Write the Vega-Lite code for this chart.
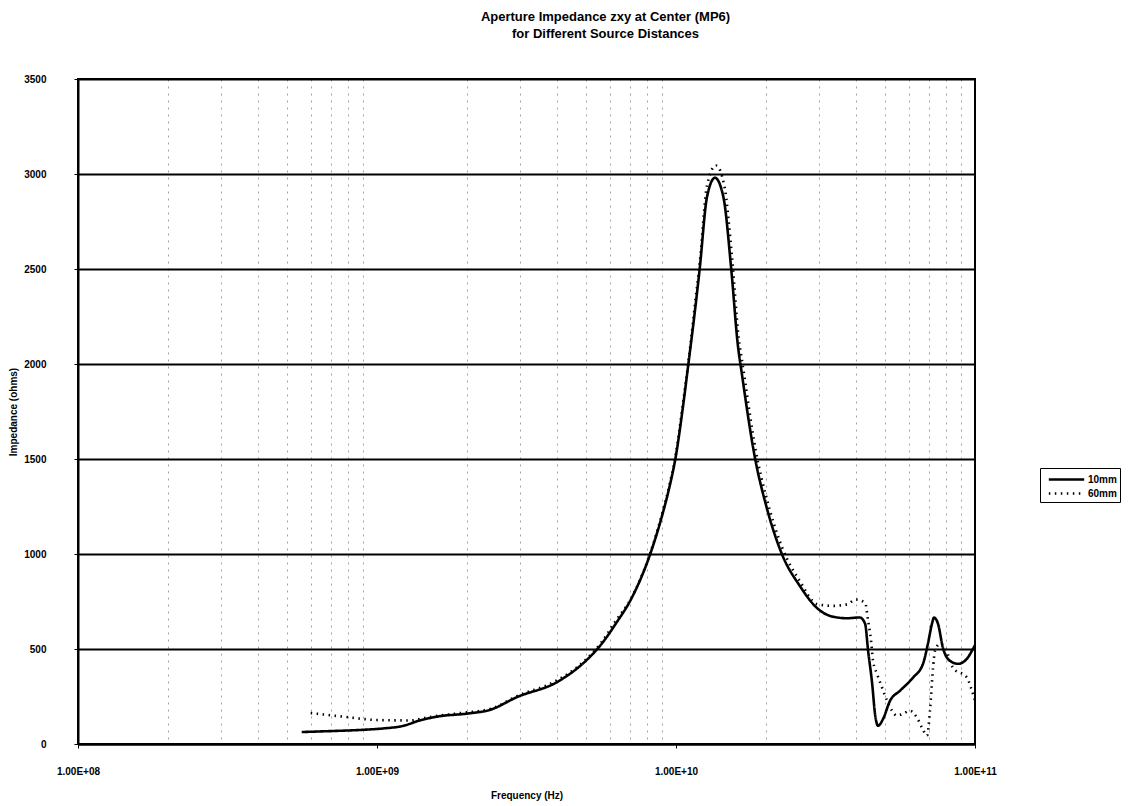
{
  "$schema": "https://vega.github.io/schema/vega-lite/v6.json",
  "autosize": {"type": "none"},
  "width": 897,
  "height": 665,
  "padding": {"left": 78, "top": 79, "right": 153, "bottom": 62},
  "background": "white",
  "config": {
    "font": "Liberation Sans",
    "view": {"stroke": "black", "strokeWidth": 2}
  },
  "title": {
    "text": ["Aperture Impedance zxy at Center (MP6)", "for Different Source Distances"],
    "fontSize": 13,
    "fontWeight": "bold",
    "font": "Liberation Sans",
    "anchor": "middle",
    "dx": 79,
    "offset": 33,
    "lineHeight": 17,
    "color": "black"
  },
  "data": {
    "values": [
      {"f": 5.6e8, "z": 63, "s": "10mm"},
      {"f": 7.0e8, "z": 68, "s": "10mm"},
      {"f": 8.8e8, "z": 74, "s": "10mm"},
      {"f": 1.05e9, "z": 82, "s": "10mm"},
      {"f": 1.22e9, "z": 95, "s": "10mm"},
      {"f": 1.39e9, "z": 124, "s": "10mm"},
      {"f": 1.6e9, "z": 145, "s": "10mm"},
      {"f": 2.0e9, "z": 160, "s": "10mm"},
      {"f": 2.39e9, "z": 180, "s": "10mm"},
      {"f": 2.94e9, "z": 247, "s": "10mm"},
      {"f": 4.0e9, "z": 326, "s": "10mm"},
      {"f": 4.9e9, "z": 426, "s": "10mm"},
      {"f": 5.6e9, "z": 521, "s": "10mm"},
      {"f": 6.3e9, "z": 635, "s": "10mm"},
      {"f": 7.1e9, "z": 767, "s": "10mm"},
      {"f": 8.2e9, "z": 1000, "s": "10mm"},
      {"f": 9.05e9, "z": 1220, "s": "10mm"},
      {"f": 9.5e9, "z": 1350, "s": "10mm"},
      {"f": 1.0e10, "z": 1520, "s": "10mm"},
      {"f": 1.05e10, "z": 1750, "s": "10mm"},
      {"f": 1.1e10, "z": 2000, "s": "10mm"},
      {"f": 1.17e10, "z": 2345, "s": "10mm"},
      {"f": 1.2e10, "z": 2500, "s": "10mm"},
      {"f": 1.27e10, "z": 2880, "s": "10mm"},
      {"f": 1.35e10, "z": 2980, "s": "10mm"},
      {"f": 1.44e10, "z": 2880, "s": "10mm"},
      {"f": 1.53e10, "z": 2500, "s": "10mm"},
      {"f": 1.61e10, "z": 2100, "s": "10mm"},
      {"f": 1.66e10, "z": 1950, "s": "10mm"},
      {"f": 1.84e10, "z": 1500, "s": "10mm"},
      {"f": 2.01e10, "z": 1245, "s": "10mm"},
      {"f": 2.26e10, "z": 1000, "s": "10mm"},
      {"f": 2.6e10, "z": 830, "s": "10mm"},
      {"f": 2.96e10, "z": 716, "s": "10mm"},
      {"f": 3.35e10, "z": 670, "s": "10mm"},
      {"f": 3.73e10, "z": 662, "s": "10mm"},
      {"f": 4.12e10, "z": 666, "s": "10mm"},
      {"f": 4.29e10, "z": 633, "s": "10mm"},
      {"f": 4.39e10, "z": 491, "s": "10mm"},
      {"f": 4.53e10, "z": 317, "s": "10mm"},
      {"f": 4.63e10, "z": 159, "s": "10mm"},
      {"f": 4.74e10, "z": 96, "s": "10mm"},
      {"f": 4.93e10, "z": 133, "s": "10mm"},
      {"f": 5.2e10, "z": 228, "s": "10mm"},
      {"f": 5.61e10, "z": 280, "s": "10mm"},
      {"f": 6.2e10, "z": 349, "s": "10mm"},
      {"f": 6.7e10, "z": 422, "s": "10mm"},
      {"f": 6.96e10, "z": 528, "s": "10mm"},
      {"f": 7.18e10, "z": 633, "s": "10mm"},
      {"f": 7.29e10, "z": 665, "s": "10mm"},
      {"f": 7.52e10, "z": 633, "s": "10mm"},
      {"f": 7.81e10, "z": 507, "s": "10mm"},
      {"f": 8.24e10, "z": 438, "s": "10mm"},
      {"f": 8.77e10, "z": 422, "s": "10mm"},
      {"f": 9.4e10, "z": 449, "s": "10mm"},
      {"f": 9.84e10, "z": 500, "s": "10mm"},
      {"f": 1.0e11, "z": 520, "s": "10mm"},
      {"f": 6.0e8, "z": 163, "s": "60mm"},
      {"f": 7.9e8, "z": 142, "s": "60mm"},
      {"f": 1.0e9, "z": 126, "s": "60mm"},
      {"f": 1.29e9, "z": 124, "s": "60mm"},
      {"f": 1.47e9, "z": 140, "s": "60mm"},
      {"f": 1.9e9, "z": 163, "s": "60mm"},
      {"f": 2.4e9, "z": 185, "s": "60mm"},
      {"f": 2.94e9, "z": 252, "s": "60mm"},
      {"f": 4.0e9, "z": 335, "s": "60mm"},
      {"f": 4.9e9, "z": 432, "s": "60mm"},
      {"f": 5.6e9, "z": 530, "s": "60mm"},
      {"f": 6.3e9, "z": 650, "s": "60mm"},
      {"f": 7.1e9, "z": 770, "s": "60mm"},
      {"f": 8.2e9, "z": 1005, "s": "60mm"},
      {"f": 9.05e9, "z": 1230, "s": "60mm"},
      {"f": 9.5e9, "z": 1360, "s": "60mm"},
      {"f": 1.0e10, "z": 1530, "s": "60mm"},
      {"f": 1.05e10, "z": 1770, "s": "60mm"},
      {"f": 1.1e10, "z": 2010, "s": "60mm"},
      {"f": 1.17e10, "z": 2380, "s": "60mm"},
      {"f": 1.2e10, "z": 2530, "s": "60mm"},
      {"f": 1.27e10, "z": 2940, "s": "60mm"},
      {"f": 1.36e10, "z": 3045, "s": "60mm"},
      {"f": 1.45e10, "z": 2940, "s": "60mm"},
      {"f": 1.54e10, "z": 2560, "s": "60mm"},
      {"f": 1.62e10, "z": 2140, "s": "60mm"},
      {"f": 1.67e10, "z": 2000, "s": "60mm"},
      {"f": 1.85e10, "z": 1540, "s": "60mm"},
      {"f": 2.02e10, "z": 1280, "s": "60mm"},
      {"f": 2.27e10, "z": 1030, "s": "60mm"},
      {"f": 2.6e10, "z": 855, "s": "60mm"},
      {"f": 2.96e10, "z": 737, "s": "60mm"},
      {"f": 3.35e10, "z": 727, "s": "60mm"},
      {"f": 3.73e10, "z": 735, "s": "60mm"},
      {"f": 4.0e10, "z": 760, "s": "60mm"},
      {"f": 4.29e10, "z": 743, "s": "60mm"},
      {"f": 4.39e10, "z": 649, "s": "60mm"},
      {"f": 4.49e10, "z": 544, "s": "60mm"},
      {"f": 4.56e10, "z": 438, "s": "60mm"},
      {"f": 4.7e10, "z": 370, "s": "60mm"},
      {"f": 4.89e10, "z": 296, "s": "60mm"},
      {"f": 5.08e10, "z": 228, "s": "60mm"},
      {"f": 5.28e10, "z": 175, "s": "60mm"},
      {"f": 5.48e10, "z": 149, "s": "60mm"},
      {"f": 5.74e10, "z": 159, "s": "60mm"},
      {"f": 6.06e10, "z": 175, "s": "60mm"},
      {"f": 6.4e10, "z": 138, "s": "60mm"},
      {"f": 6.65e10, "z": 86, "s": "60mm"},
      {"f": 6.91e10, "z": 44, "s": "60mm"},
      {"f": 7.07e10, "z": 175, "s": "60mm"},
      {"f": 7.24e10, "z": 402, "s": "60mm"},
      {"f": 7.35e10, "z": 491, "s": "60mm"},
      {"f": 7.64e10, "z": 528, "s": "60mm"},
      {"f": 8.0e10, "z": 495, "s": "60mm"},
      {"f": 8.44e10, "z": 401, "s": "60mm"},
      {"f": 9.4e10, "z": 349, "s": "60mm"},
      {"f": 9.77e10, "z": 280, "s": "60mm"},
      {"f": 1.0e11, "z": 228, "s": "60mm"}
    ]
  },
  "mark": {"type": "line", "interpolate": "monotone", "color": "black", "strokeWidth": 2.6, "clip": true},
  "encoding": {
    "x": {
      "field": "f",
      "type": "quantitative",
      "scale": {"type": "log", "domain": [1e8, 1e11], "nice": false},
      "axis": {
        "title": "Frequency (Hz)",
        "values": [1e8, 2e8, 3e8, 4e8, 5e8, 6e8, 7e8, 8e8, 9e8, 1e9, 2e9, 3e9, 4e9, 5e9, 6e9, 7e9, 8e9, 9e9, 1e10, 2e10, 3e10, 4e10, 5e10, 6e10, 7e10, 8e10, 9e10, 1e11],
        "labelExpr": "abs(log(datum.value)/LN10 - round(log(datum.value)/LN10)) < 0.001 ? '1.00E+' + (round(log(datum.value)/LN10) < 10 ? '0' : '') + round(log(datum.value)/LN10) : ''",
        "labelFont": "Liberation Sans",
        "labelFontSize": 10,
        "labelFontWeight": "bold",
        "labelColor": "black",
        "labelPadding": 18,
        "labelOverlap": false,
        "labelFlush": false,
        "domainColor": "black",
        "domainWidth": 2,
        "tickColor": "black",
        "tickSize": 4,
        "tickOpacity": {"condition": {"test": "abs(log(datum.value)/LN10 - round(log(datum.value)/LN10)) < 0.001", "value": 1}, "value": 0},
        "grid": true,
        "gridColor": "#8a8a8a",
        "gridDash": [2, 5],
        "gridWidth": 1,
        "gridOpacity": {"condition": {"test": "abs(log(datum.value)/LN10 - round(log(datum.value)/LN10)) < 0.001", "value": 0}, "value": 0.8},
        "titleFont": "Liberation Sans",
        "titleFontSize": 10,
        "titleFontWeight": "bold",
        "titleColor": "black",
        "titlePadding": 14
      }
    },
    "y": {
      "field": "z",
      "type": "quantitative",
      "scale": {"domain": [0, 3500], "nice": false},
      "axis": {
        "title": "Impedance (ohms)",
        "values": [0, 500, 1000, 1500, 2000, 2500, 3000, 3500],
        "format": "d",
        "labelFont": "Liberation Sans",
        "labelFontSize": 10,
        "labelFontWeight": "bold",
        "labelColor": "black",
        "labelPadding": 28,
        "domainColor": "black",
        "domainWidth": 2,
        "tickColor": "black",
        "tickSize": 4,
        "grid": true,
        "gridColor": "black",
        "gridWidth": 2,
        "titleFont": "Liberation Sans",
        "titleFontSize": 10,
        "titleFontWeight": "bold",
        "titleColor": "black",
        "titlePadding": 5
      }
    },
    "strokeDash": {
      "field": "s",
      "type": "nominal",
      "scale": {"domain": ["10mm", "60mm"], "range": [[1, 0], [1.5, 4.5]]},
      "legend": {
        "title": null,
        "orient": "none",
        "legendX": 962,
        "legendY": 389,
        "symbolType": "M-2.5,0H2.5",
        "symbolSize": 200,
        "symbolOffset": 15,
        "symbolStrokeWidth": 2.6,
        "symbolStrokeColor": "black",
        "labelFont": "Liberation Sans",
        "labelFontSize": 10,
        "labelFontWeight": "bold",
        "labelColor": "black",
        "labelOffset": 13,
        "strokeColor": "black",
        "padding": 3,
        "rowPadding": 0
      }
    }
  }
}
